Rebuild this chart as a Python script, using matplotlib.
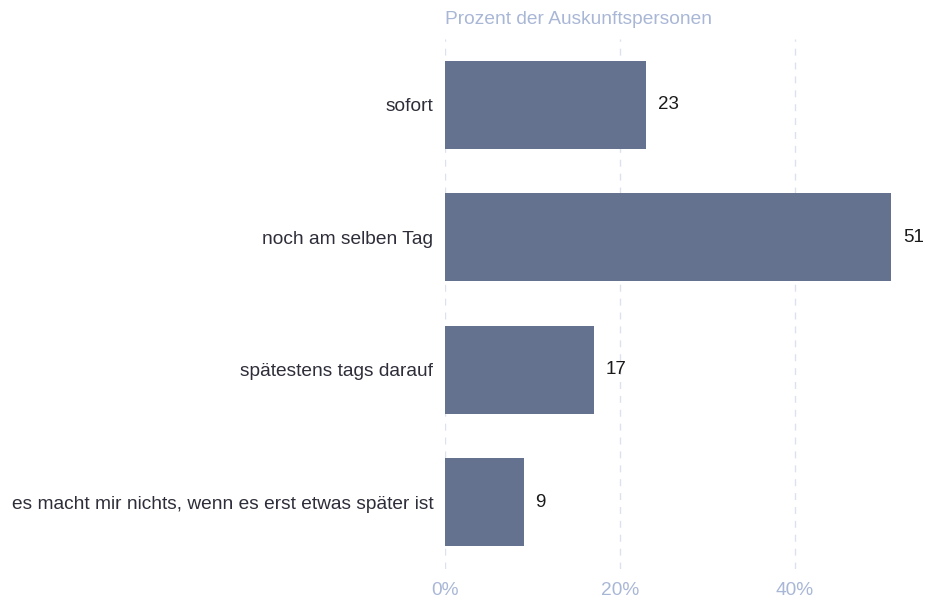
import matplotlib.pyplot as plt

plt.rcParams['font.family'] = ['Liberation Sans', 'DejaVu Sans']

antworten = ['sofort', 'noch am selben Tag', 'spätestens tags darauf',
             'es macht mir nichts, wenn es erst etwas später ist']
prozent = [23, 51, 17, 9]
ticks = [0, 20, 40]
tick_labels = ['0%', '20%', '40%']

fig = plt.figure(figsize=(9.26, 6.03), dpi=100)
ax = fig.add_axes([445 / 926, 34.5 / 603, 446 / 926, 530 / 603])

pos = list(range(len(antworten)))
ax.barh(pos, prozent, height=0.665, color='#64718f', zorder=2)
for y, v in zip(pos, prozent):
    ax.text(v + 1.35, y, str(v), va='center', ha='left', fontsize=13.5,
            color='#1a1a1a', clip_on=False)

ax.set_ylim(3.5, -0.5)
ax.set_xlim(0, 51)
ax.set_yticks(pos)
ax.set_yticklabels(antworten, fontsize=13.8, color='#2e2e3a')
ax.set_xticks(ticks)
ax.set_xticklabels(tick_labels, fontsize=13.8, color='#a9b7d6')
ax.tick_params(axis='both', length=0)
ax.tick_params(axis='y', pad=8.5)
ax.tick_params(axis='x', pad=10)
ax.grid(axis='x', color='#dde1ef', linestyle=(0, (5, 5)), linewidth=1, zorder=0)
for s in ax.spines.values():
    s.set_visible(False)

fig.text(445 / 926, 1 - 20 / 603, 'Prozent der Auskunftspersonen', fontsize=13.8,
         color='#a9b7d6', ha='left', va='center')

fig.savefig('out.png', dpi=100)
